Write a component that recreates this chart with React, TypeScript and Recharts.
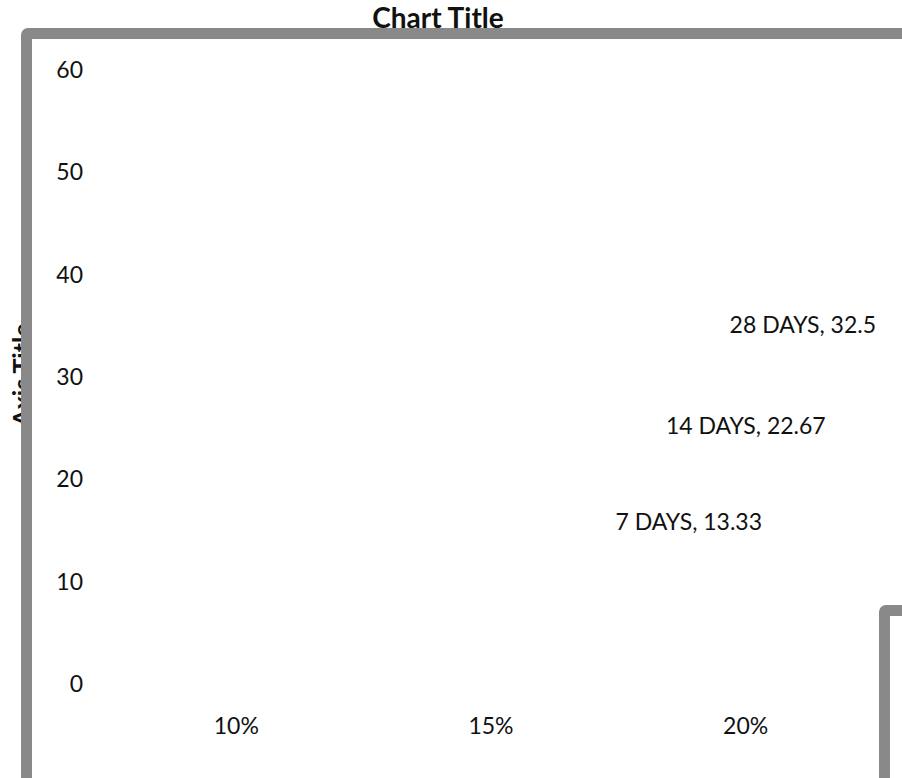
import React from "react";
import { BarChart, Bar, XAxis, YAxis, LabelList } from "recharts";

const categories = ["10%", "15%", "20%"];
const seriesNames = ["7 DAYS", "14 DAYS", "28 DAYS"];
const days7 = [null, null, 13.33];
const days14 = [null, null, 22.67];
const days28 = [null, null, 32.5];
const yTicks = [0, 10, 20, 30, 40, 50, 60];

const seriesKeys = ["d7", "d14", "d28"];

const data = categories.map((c, i) => ({
  category: c,
  d7: days7[i],
  d14: days14[i],
  d28: days28[i],
}));

const FONT = "Lato, 'Open Sans', sans-serif";
const TEXT = "#111";
const FRAME = "#898989";

const AxisTitle = (props: any) => {
  const { viewBox } = props;
  if (!viewBox) return null;
  const x = viewBox.x + 31;
  const y = viewBox.y + viewBox.height / 2 - 2;
  return (
    <text
      x={x}
      y={y}
      transform={`rotate(-90 ${x} ${y})`}
      textAnchor="middle"
      fontWeight="bold"
      fontSize={25}
      fontFamily={FONT}
      fill={TEXT}
    >
      Axis Title
    </text>
  );
};

// data label "SERIES, value" drawn above the (invisible) bar, without wrapping
const makeLabel = (name: string) => (props: any) => {
  const { x, y, width, value } = props;
  if (value == null || x == null) return null;
  return (
    <text
      x={Number(x) + Number(width) / 2}
      y={Number(y) - 18}
      textAnchor="middle"
      fontSize={23}
      fontFamily={FONT}
      fill={TEXT}
    >
      {`${name}, ${value}`}
    </text>
  );
};

const App: React.FC = () => {
  return (
    <div
      style={{
        position: "absolute",
        left: 0,
        top: 0,
        width: 902,
        height: 778,
        overflow: "hidden",
        background: "#fff",
        fontFamily: FONT,
      }}
    >
      <BarChart
        width={902}
        height={778}
        data={data}
        margin={{ top: 70, right: 29, bottom: 34, left: 0 }}
        barSize={53}
        barGap={4}
      >
        <XAxis
          dataKey="category"
          axisLine={false}
          tickLine={false}
          tickSize={0}
          tickMargin={34}
          height={60}
          interval={0}
          tick={{ fill: TEXT, fontSize: 23, fontFamily: FONT }}
        />
        <YAxis
          domain={[0, 60]}
          ticks={yTicks}
          width={109}
          axisLine={false}
          tickLine={false}
          tickSize={0}
          tickMargin={26}
          tick={{ fill: TEXT, fontSize: 23, fontFamily: FONT }}
          label={<AxisTitle />}
        />
        {seriesKeys.map((key, i) => (
          <Bar
            key={key}
            dataKey={key}
            name={seriesNames[i]}
            fill="none"
            isAnimationActive={false}
          >
            <LabelList dataKey={key} content={makeLabel(seriesNames[i])} />
          </Bar>
        ))}
      </BarChart>
      <svg
        width={902}
        height={40}
        style={{ position: "absolute", left: 0, top: 0 }}
      >
        <text
          x={438}
          y={28}
          textAnchor="middle"
          fontWeight="bold"
          fontSize={28}
          fontFamily={FONT}
          fill={TEXT}
        >
          Chart Title
        </text>
      </svg>
      <div
        style={{
          position: "absolute",
          left: 21,
          top: 28,
          width: 1200,
          height: 1200,
          border: `11px solid ${FRAME}`,
          borderRadius: 7,
          boxSizing: "border-box",
          pointerEvents: "none",
        }}
      />
      <div
        style={{
          position: "absolute",
          left: 879,
          top: 605,
          width: 300,
          height: 400,
          border: `11px solid ${FRAME}`,
          borderRadius: 7,
          boxSizing: "border-box",
          pointerEvents: "none",
        }}
      />
    </div>
  );
};

export default App;
